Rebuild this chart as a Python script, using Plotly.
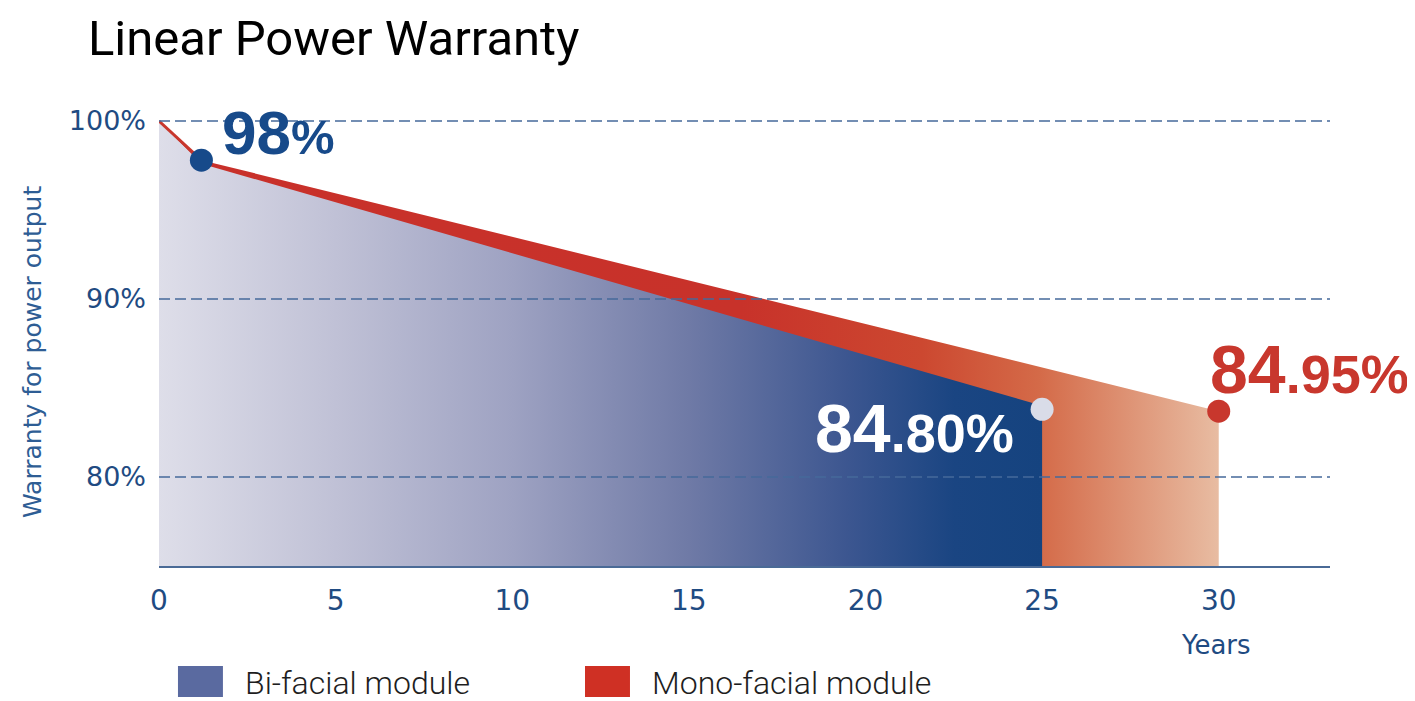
import plotly.graph_objects as go

# ---- data ----
years_bi = [0, 1.2, 25]
power_bi = [100, 97.6, 84.0]
years_mono = [0, 1.2, 30]
power_mono = [100, 97.8, 83.7]

key_x = [1.2, 25, 30]
key_y = [97.8, 83.8, 83.7]
key_colors = ["#174a8a", "#d9dce8", "#c8372d"]

x_ticks = [0, 5, 10, 15, 20, 25, 30]
y_ticks = [80, 90, 100]
y_tick_text = ["80%", "90%", "100%"]

legend_names = ["Bi-facial module", "Mono-facial module"]
legend_colors = ["#5a6aa0", "#cf3024"]

NAVY = "#1f4b82"
TICK_FONT = "DejaVu Sans, sans-serif"

fig = go.Figure()

# mono-facial area (under red line)
fig.add_trace(go.Scatter(
    x=years_mono, y=power_mono, mode="lines", line=dict(width=0, color="#c8372d"),
    fill="tozeroy",
    fillgradient=dict(type="horizontal", start=0, stop=30,
                      colorscale=[[0, "#c8302a"], [0.55, "#c8322a"], [0.72, "#cc4830"],
                                  [0.83, "#d46a48"], [1.0, "#e8bca2"]]),
    showlegend=False, hoverinfo="skip"))

# bi-facial area (under blue line)
fig.add_trace(go.Scatter(
    x=years_bi, y=power_bi, mode="lines", line=dict(width=0, color="#1a4580"),
    fill="tozeroy",
    fillgradient=dict(type="horizontal", start=0, stop=25,
                      colorscale=[[0, "#dedee9"], [0.2, "#c0c1d6"], [0.4, "#9ea2c2"],
                                  [0.6, "#6f7aa6"], [0.78, "#3c5690"], [0.9, "#1a4582"],
                                  [1.0, "#15437f"]]),
    showlegend=False, hoverinfo="skip"))

# red stroke of first segment
fig.add_trace(go.Scatter(
    x=years_mono[:2], y=power_mono[:2], mode="lines",
    line=dict(width=3, color="#c8372d"), showlegend=False, hoverinfo="skip"))

# key points
fig.add_trace(go.Scatter(
    x=key_x, y=key_y, mode="markers",
    marker=dict(size=23, color=key_colors, line=dict(width=0)),
    showlegend=False, hoverinfo="skip"))

# dashed gridlines drawn above the areas
for yv in y_ticks:
    fig.add_shape(type="line", xref="paper", yref="y", x0=0, x1=1, y0=yv, y1=yv,
                  layer="above", line=dict(color="#45699a", width=1.5, dash="11px,5px"))

ann_font = "Liberation Sans, Arial, sans-serif"
fig.add_annotation(x=1.74, y=99.33, xref="x", yref="y", xanchor="left", yanchor="middle",
                   text="<b>98<span style='font-size:49px'>%</span></b>",
                   showarrow=False, font=dict(family=ann_font, size=62, color="#174a8a"))
fig.add_annotation(x=24.26, y=82.75, xref="x", yref="y", xanchor="right", yanchor="middle",
                   text="<b>84<span style='font-size:54px'>.80%</span></b>",
                   showarrow=False, font=dict(family=ann_font, size=68, color="white"))
fig.add_annotation(x=29.69, y=86.07, xref="x", yref="y", xanchor="left", yanchor="middle",
                   text="<b>84<span style='font-size:54px'>.95%</span></b>",
                   showarrow=False, font=dict(family=ann_font, size=68, color="#c8372d"))

# y axis title
fig.add_annotation(x=-0.1085, y=0.467, xref="paper", yref="paper", xanchor="center",
                   yanchor="middle", textangle=-90, text="Warranty for power output",
                   showarrow=False, font=dict(family=TICK_FONT, size=25, color="#2e5d94"))

# Years label
fig.add_annotation(x=29.92, y=-0.1725, xref="x", yref="paper", xanchor="center", yanchor="middle",
                   text="Years", showarrow=False,
                   font=dict(family=TICK_FONT, size=26, color=NAVY))

# manual legend
leg_x = [0.0162, 0.3638]
for i, (name, col) in enumerate(zip(legend_names, legend_colors)):
    fig.add_shape(type="rect", xref="paper", yref="paper",
                  x0=leg_x[i], x1=leg_x[i] + 0.0384, y0=-0.286, y1=-0.2183,
                  fillcolor=col, line=dict(width=0))
    fig.add_annotation(x=leg_x[i] + 0.0555, y=-0.2555, xref="paper", yref="paper",
                       xanchor="left", yanchor="middle", text=name, showarrow=False,
                       font=dict(family="Roboto, sans-serif", size=32, color="#1e1e1e",
                                 weight=300))

fig.update_layout(
    width=1415, height=701,
    margin=dict(l=151, r=93, t=100, b=143, autoexpand=False),
    paper_bgcolor="white", plot_bgcolor="white",
    title=dict(text="Linear Power Warranty", x=0.0565, xref="container", xanchor="left",
               y=0.957, yref="container", yanchor="middle",
               font=dict(family="Roboto, sans-serif", size=49, color="black")),
    xaxis=dict(range=[0, 33.15], tickvals=x_ticks, showgrid=False, zeroline=False,
               showline=True, linecolor="#4a6a96", linewidth=2, ticks="",
               ticklabelstandoff=8, automargin=False,
               tickfont=dict(family=TICK_FONT, size=28, color=NAVY)),
    yaxis=dict(range=[75, 100.73], tickvals=y_ticks, ticktext=y_tick_text,
               showgrid=False, zeroline=False, showline=False, ticks="",
               ticklabelstandoff=12, automargin=False,
               tickfont=dict(family=TICK_FONT, size=27, color=NAVY)),
)

fig.write_html("out.html")
